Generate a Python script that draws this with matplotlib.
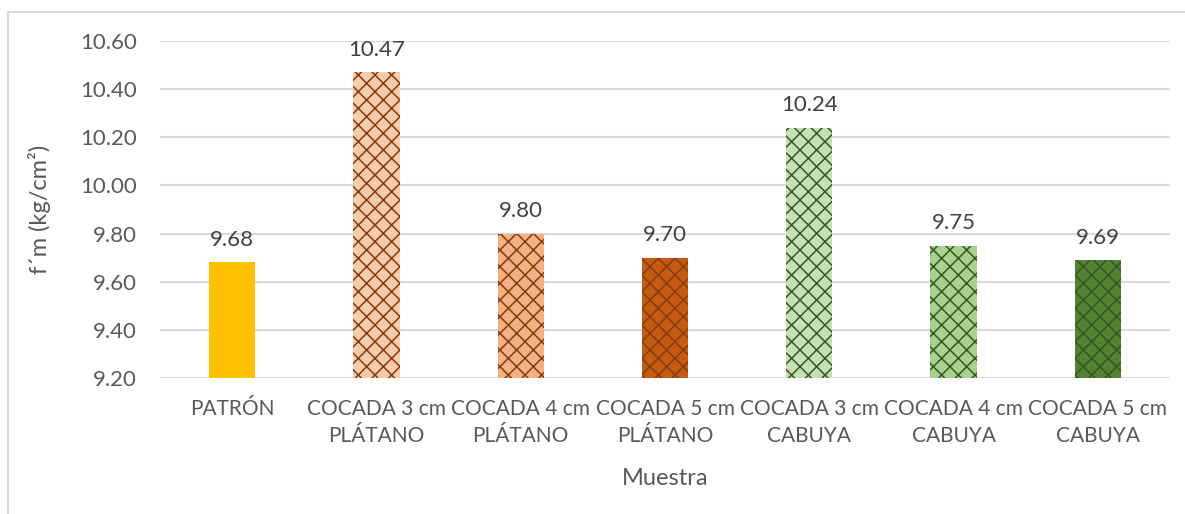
import matplotlib.pyplot as plt
from matplotlib.patches import Rectangle

# values
muestras = ["PATRÓN", "COCADA 3 cm\nPLÁTANO", "COCADA 4 cm\nPLÁTANO", "COCADA 5 cm\nPLÁTANO",
            "COCADA 3 cm\nCABUYA", "COCADA 4 cm\nCABUYA", "COCADA 5 cm\nCABUYA"]
fm = [9.68, 10.47, 9.80, 9.70, 10.24, 9.75, 9.69]
yticks = [9.20, 9.40, 9.60, 9.80, 10.00, 10.20, 10.40, 10.60]

colores = ["#FFC000", "#F8CBAD", "#F4B183", "#C55A11", "#C5E0B4", "#A9D18E", "#548235"]
trama = ["#FFC000", "#843C0C", "#843C0C", "#843C0C", "#375623", "#375623", "#375623"]

plt.rcParams['font.family'] = ['Lato', 'DejaVu Sans']
plt.rcParams['hatch.linewidth'] = 1.1
txt = "#595959"

fig = plt.figure(figsize=(11.85, 5.14), dpi=100)
ax = fig.add_axes([160/1185, 1 - 378/514, 1010/1185, 337/514])

x = range(len(muestras))
for i in x:
    h = "xx" if i > 0 else None
    ax.bar(i, fm[i] - 9.20, bottom=9.20, width=0.32, color=colores[i],
           edgecolor=trama[i], linewidth=0, hatch=h, zorder=2)
    ax.annotate(f"{fm[i]:.2f}", (i, fm[i]), xytext=(0, 9), textcoords="offset points",
                ha="center", va="bottom", fontsize=16, color="#404040")

ax.set_xlim(-0.5, len(muestras) - 0.5)
ax.set_ylim(9.20, 10.60)
ax.set_yticks(yticks)
ax.set_yticklabels([f"{v:.2f}" for v in yticks], fontsize=16, color=txt)
ax.set_xticks(list(x))
ax.set_xticklabels(muestras, fontsize=15, color=txt, linespacing=1.45)
ax.tick_params(axis="y", length=0, pad=16.5)
ax.tick_params(axis="x", length=0, pad=15)
ax.grid(axis="y", color="#D9D9D9", linewidth=1.5, zorder=0)
for s in ax.spines.values():
    s.set_visible(False)

ax.set_ylabel("f´m (kg/cm²)", fontsize=17, color=txt, labelpad=21)
ax.set_xlabel("Muestra", fontsize=17, color=txt, labelpad=16)

# chart area frame
fig.patches.append(Rectangle((8/1185, -0.1), 1.2, 1 - 12/514 + 0.1,
                             transform=fig.transFigure, fill=False,
                             edgecolor="#D9D9D9", linewidth=1.5))

fig.savefig("out.png", dpi=100)
